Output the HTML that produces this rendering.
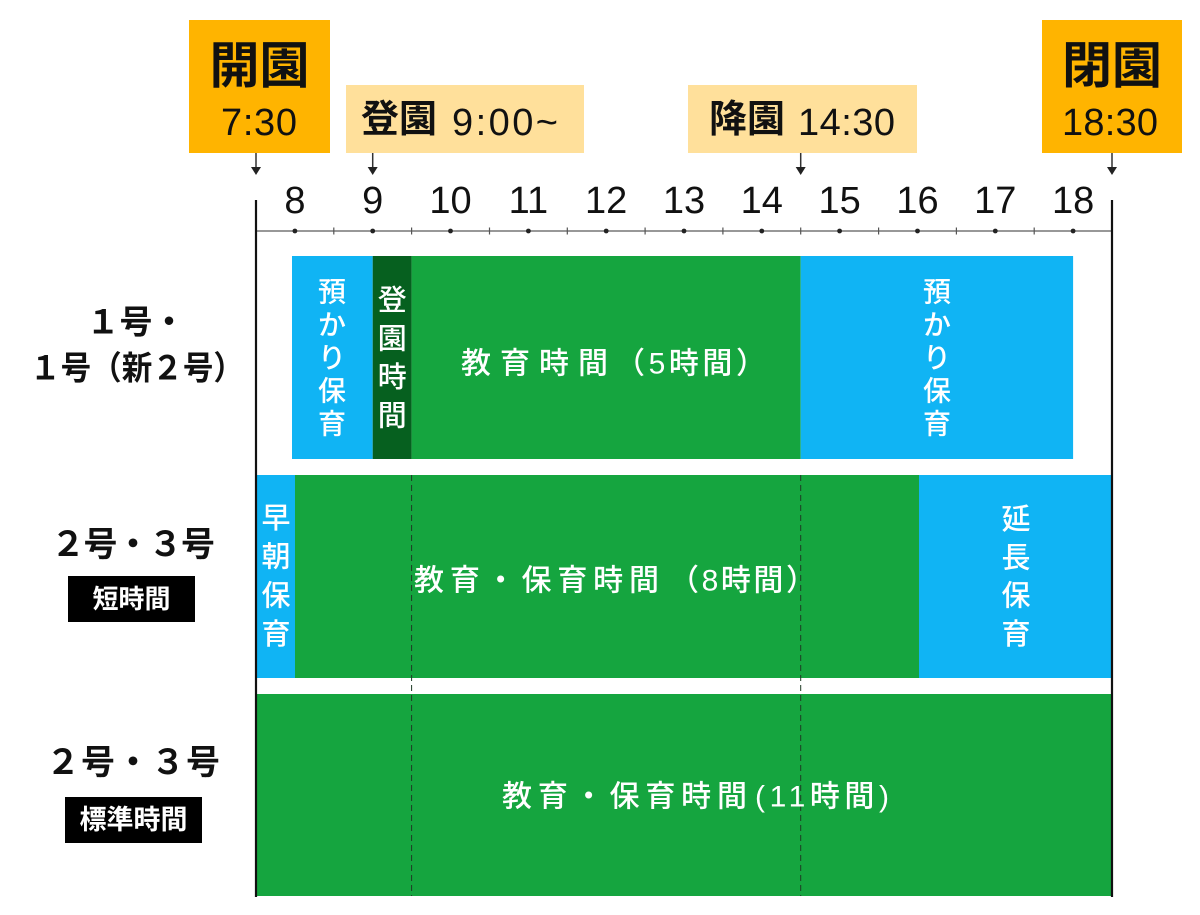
<!DOCTYPE html>
<html><head><meta charset="utf-8">
<style>
html,body{margin:0;padding:0;background:#fff;}
svg{display:block;}
text{font-family:"Liberation Sans","Noto Sans CJK JP",sans-serif;}
.w{fill:#fff;font-weight:500;}
</style></head>
<body>
<svg width="1200" height="915" viewBox="0 0 1200 915" xmlns="http://www.w3.org/2000/svg">
<rect width="1200" height="915" fill="#fff"/>

<!-- top boxes -->
<rect x="189" y="20" width="141" height="133" fill="#FFB400"/>
<rect x="1042" y="20" width="140" height="133" fill="#FFB400"/>
<rect x="346" y="85" width="238" height="68" fill="#FFE09B"/>
<rect x="688" y="85" width="229" height="68" fill="#FFE09B"/>

<text x="259.5" y="66" font-size="50" font-weight="700" text-anchor="middle" dominant-baseline="central" fill="#111">開園</text>
<text x="259" y="135" font-size="38" text-anchor="middle" textLength="76" lengthAdjust="spacing" fill="#111">7:30</text>
<text x="1112" y="66" font-size="50" font-weight="700" text-anchor="middle" dominant-baseline="central" fill="#111">閉園</text>
<text x="1110" y="135" font-size="38" text-anchor="middle" textLength="96" lengthAdjust="spacing" fill="#111">18:30</text>

<text x="361" y="120" font-size="38" font-weight="700" dominant-baseline="central" fill="#111">登園</text>
<text x="452" y="135" font-size="38" textLength="106" lengthAdjust="spacing" fill="#111">9:00~</text>
<text x="709" y="120" font-size="38" font-weight="700" dominant-baseline="central" fill="#111">降園</text>
<text x="798" y="135" font-size="38" textLength="97" lengthAdjust="spacing" fill="#111">14:30</text>

<!-- arrows -->
<g stroke="#333" stroke-width="1.5">
<line x1="256" y1="153" x2="256" y2="168"/>
<line x1="372.7" y1="153" x2="372.7" y2="168"/>
<line x1="800.7" y1="153" x2="800.7" y2="168"/>
<line x1="1112" y1="153" x2="1112" y2="168"/>
</g>
<g fill="#222">
<polygon points="251,167 261,167 256,175"/>
<polygon points="367.7,167 377.7,167 372.7,175"/>
<polygon points="795.7,167 805.7,167 800.7,175"/>
<polygon points="1107,167 1117,167 1112,175"/>
</g>

<!-- hour labels -->
<g font-size="38" text-anchor="middle" fill="#111">
<text x="294.9" y="213">8</text>
<text x="372.7" y="213">9</text>
<text x="450.5" y="213">10</text>
<text x="528.4" y="213">11</text>
<text x="606.2" y="213">12</text>
<text x="684.0" y="213">13</text>
<text x="761.8" y="213">14</text>
<text x="839.6" y="213">15</text>
<text x="917.5" y="213">16</text>
<text x="995.3" y="213">17</text>
<text x="1073.1" y="213">18</text>
</g>

<!-- axis -->
<line x1="256" y1="231" x2="1112" y2="231" stroke="#777" stroke-width="1.5"/>
<g fill="#222">
<circle cx="294.9" cy="231" r="2.4"/><circle cx="372.7" cy="231" r="2.4"/><circle cx="450.5" cy="231" r="2.4"/>
<circle cx="528.4" cy="231" r="2.4"/><circle cx="606.2" cy="231" r="2.4"/><circle cx="684.0" cy="231" r="2.4"/>
<circle cx="761.8" cy="231" r="2.4"/><circle cx="839.6" cy="231" r="2.4"/><circle cx="917.5" cy="231" r="2.4"/>
<circle cx="995.3" cy="231" r="2.4"/><circle cx="1073.1" cy="231" r="2.4"/>
</g>
<g stroke="#555" stroke-width="1.2">
<line x1="333.8" y1="227.5" x2="333.8" y2="234.5"/><line x1="411.6" y1="227.5" x2="411.6" y2="234.5"/>
<line x1="489.5" y1="227.5" x2="489.5" y2="234.5"/><line x1="567.3" y1="227.5" x2="567.3" y2="234.5"/>
<line x1="645.1" y1="227.5" x2="645.1" y2="234.5"/><line x1="722.9" y1="227.5" x2="722.9" y2="234.5"/>
<line x1="800.7" y1="227.5" x2="800.7" y2="234.5"/><line x1="878.6" y1="227.5" x2="878.6" y2="234.5"/>
<line x1="956.4" y1="227.5" x2="956.4" y2="234.5"/><line x1="1034.2" y1="227.5" x2="1034.2" y2="234.5"/>
</g>

<!-- row 1 -->
<rect x="292" y="256" width="80.7" height="203" fill="#10B4F4"/>
<rect x="372.7" y="256" width="38.9" height="203" fill="#06601F"/>
<rect x="411.6" y="256" width="389.1" height="203" fill="#15A53F"/>
<rect x="800.7" y="256" width="272.4" height="203" fill="#10B4F4"/>

<!-- row 2 -->
<rect x="257" y="475" width="38" height="203" fill="#10B4F4"/>
<rect x="295" y="475" width="624" height="203" fill="#15A53F"/>
<rect x="919" y="475" width="192" height="203" fill="#10B4F4"/>

<!-- row 3 -->
<rect x="257" y="694" width="854" height="202" fill="#15A53F"/>

<!-- dashed guides -->
<g stroke="#1f3a25" stroke-width="1" stroke-dasharray="6 4">
<line x1="411.6" y1="475" x2="411.6" y2="896"/>
<line x1="800.7" y1="475" x2="800.7" y2="896"/>
</g>

<!-- vertical frame lines -->
<line x1="256" y1="200" x2="256" y2="897" stroke="#111" stroke-width="2.2"/>
<line x1="1112" y1="200" x2="1112" y2="897" stroke="#111" stroke-width="2.2"/>

<!-- vertical labels -->
<g class="w" font-size="28" text-anchor="middle" dominant-baseline="central">
<text x="332" y="292">預</text><text x="332" y="325">か</text><text x="332" y="358">り</text><text x="332" y="391">保</text><text x="332" y="424">育</text>
<text x="937" y="292">預</text><text x="937" y="325">か</text><text x="937" y="358">り</text><text x="937" y="391">保</text><text x="937" y="424">育</text>
</g>
<g class="w" font-size="29" text-anchor="middle" dominant-baseline="central">
<text x="392.2" y="301">登</text><text x="392.2" y="339.5">園</text><text x="392.2" y="378">時</text><text x="392.2" y="416.5">間</text>
<text x="276" y="519">早</text><text x="276" y="557.7">朝</text><text x="276" y="596.3">保</text><text x="276" y="635">育</text>
<text x="1016" y="520">延</text><text x="1016" y="558.3">長</text><text x="1016" y="596.7">保</text><text x="1016" y="635">育</text>
</g>

<!-- horizontal bar labels -->
<g class="w" font-size="30" dominant-baseline="central">
<text x="461" y="364" textLength="147" lengthAdjust="spacing">教育時間</text>
<text x="615" y="364" textLength="151" lengthAdjust="spacing">（5時間）</text>
<text x="414" y="581" textLength="245" lengthAdjust="spacing">教育・保育時間</text>
<text x="669" y="581" textLength="147" lengthAdjust="spacing">（8時間）</text>
<text x="502" y="797" textLength="245" lengthAdjust="spacing">教育・保育時間</text>
<text x="755" y="797" textLength="134" lengthAdjust="spacing">(11時間)</text>
</g>

<!-- left labels -->
<g font-weight="700" fill="#111" text-anchor="middle" dominant-baseline="central">
<text x="136" y="322" font-size="33">１号・</text>
<text x="137" y="368" font-size="33" textLength="214" lengthAdjust="spacingAndGlyphs">１号（新２号）</text>
<text x="133" y="545" font-size="34" textLength="164" lengthAdjust="spacing">２号・３号</text>
<text x="133" y="763" font-size="34" textLength="174" lengthAdjust="spacing">２号・３号</text>
</g>
<rect x="68" y="576" width="127" height="46" fill="#000"/>
<text x="131.5" y="599" font-size="26" font-weight="700" fill="#fff" text-anchor="middle" dominant-baseline="central">短時間</text>
<rect x="65" y="797" width="137" height="46" fill="#000"/>
<text x="133.5" y="820" font-size="27" font-weight="700" fill="#fff" text-anchor="middle" dominant-baseline="central">標準時間</text>
</svg>
</body></html>
